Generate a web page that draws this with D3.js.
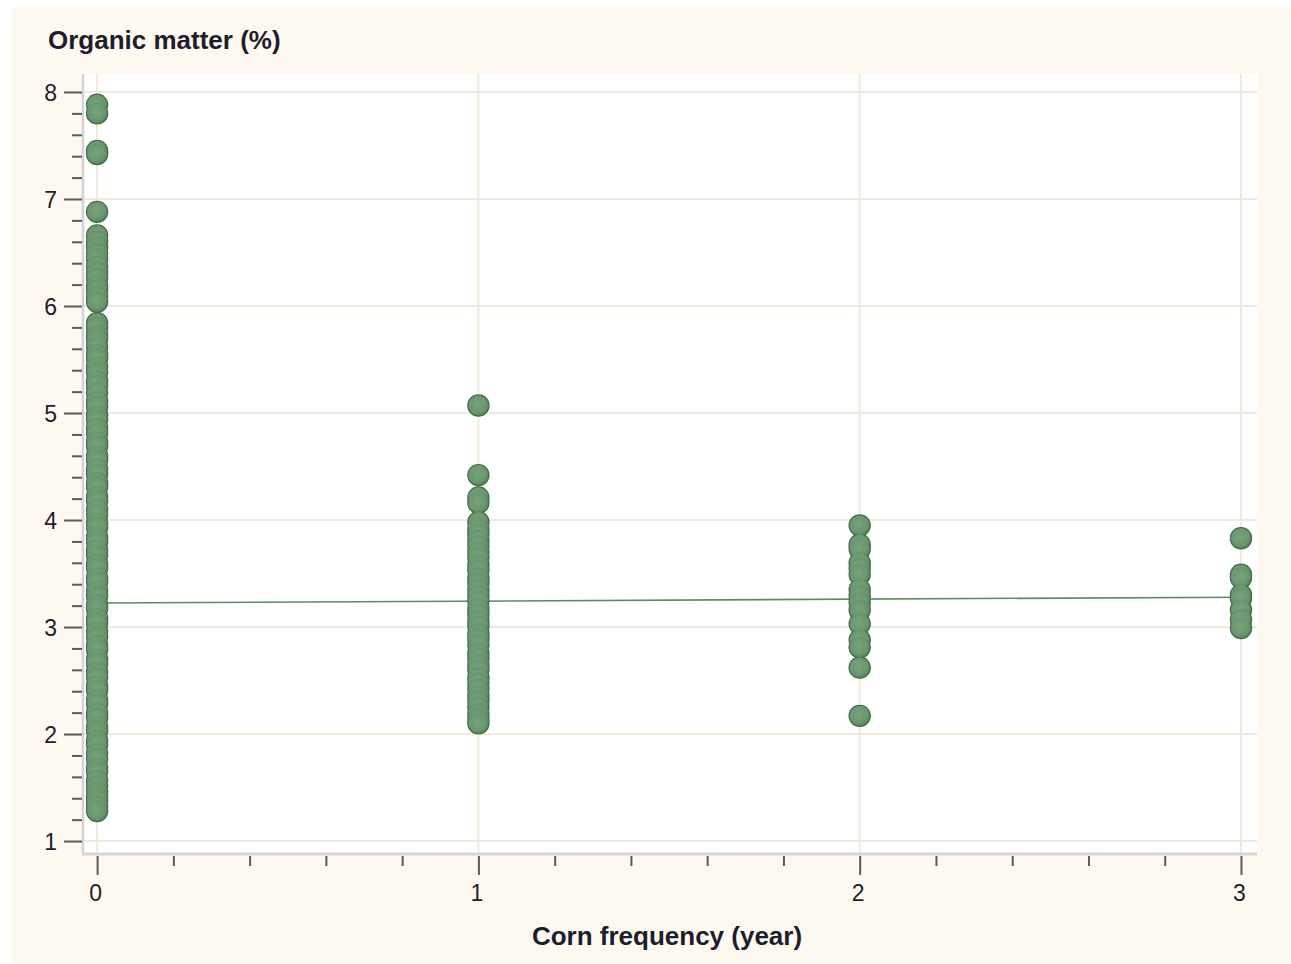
<!DOCTYPE html>
<html>
<head>
<meta charset="utf-8">
<script src="https://cdn.jsdelivr.net/npm/d3@7/dist/d3.min.js"></script>
<style>
  html, body { margin: 0; padding: 0; background: #ffffff; }
  svg { display: block; }
  text { font-family: "Liberation Sans", Arial, sans-serif; }
</style>
</head>
<body>
<svg id="chart" width="1291" height="964"></svg>
<script>
// Corn frequency categories (years) and organic matter (%) readings per category
const cornFrequency = [0, 1, 2, 3];

const organicAt0 = [7.88, 7.80, 7.45, 7.42, 6.88, 6.66, 6.61, 6.55, 6.49, 6.44, 6.37,
  6.32, 6.26, 6.19, 6.15, 6.09, 6.04, 5.84, 5.80, 5.73, 5.69, 5.62, 5.55, 5.51,
  5.43, 5.38, 5.30, 5.26, 5.19, 5.11, 5.06, 4.98, 4.94, 4.86, 4.81, 4.73, 4.69,
  4.60, 4.56, 4.48, 4.43, 4.35, 4.31, 4.22, 4.18, 4.10, 4.05, 3.97, 3.93, 3.84,
  3.80, 3.72, 3.67, 3.59, 3.55, 3.46, 3.42, 3.34, 3.29, 3.21, 3.17, 3.08, 3.04,
  2.96, 2.91, 2.83, 2.79, 2.70, 2.66, 2.58, 2.53, 2.45, 2.41, 2.32, 2.28, 2.20,
  2.15, 2.07, 2.03, 1.94, 1.90, 1.82, 1.77, 1.69, 1.65, 1.57, 1.52, 1.46, 1.42,
  1.38, 1.33, 1.28];
const organicAt1 = [5.07, 4.42, 4.21, 4.16, 3.98, 3.92, 3.87, 3.81, 3.76, 3.70, 3.65,
  3.58, 3.53, 3.46, 3.41, 3.35, 3.29, 3.24, 3.17, 3.12, 3.06, 3.01, 2.94, 2.89,
  2.83, 2.76, 2.71, 2.65, 2.60, 2.53, 2.48, 2.42, 2.36, 2.31, 2.25, 2.19, 2.14, 2.10];
const organicAt2 = [3.95, 3.77, 3.73, 3.60, 3.55, 3.49, 3.35, 3.29, 3.23, 3.16, 3.03,
  2.88, 2.81, 2.62, 2.17];
const organicAt3 = [3.83, 3.49, 3.46, 3.30, 3.27, 3.16, 3.07, 2.99];

// Linear fit endpoints
const fitX = [0, 3];
const fitY = [3.224, 3.279];

// Axis ticks
const xMajorTicks = [0, 1, 2, 3];
const xMinorTicks = [0.2, 0.4, 0.6, 0.8, 1.2, 1.4, 1.6, 1.8, 2.2, 2.4, 2.6, 2.8];
const yMajorTicks = [1, 2, 3, 4, 5, 6, 7, 8];
const yMinorTicks = [1.2, 1.4, 1.6, 1.8, 2.2, 2.4, 2.6, 2.8, 3.2, 3.4, 3.6, 3.8,
  4.2, 4.4, 4.6, 4.8, 5.2, 5.4, 5.6, 5.8, 6.2, 6.4, 6.6, 6.8, 7.2, 7.4, 7.6, 7.8];

const yTitle = "Organic matter (%)";
const xTitle = "Corn frequency (year)";

const seriesByCategory = [organicAt0, organicAt1, organicAt2, organicAt3];
const points = [];
cornFrequency.forEach((c, i) => {
  seriesByCategory[i].forEach(v => points.push({ x: c, y: v }));
});

const svg = d3.select("#chart");

// Panel background
svg.append("rect").attr("x", 12).attr("y", 8).attr("width", 1279).attr("height", 956)
  .attr("fill", "#fdf9f1");

const plot = { left: 83, right: 1257, top: 74, bottom: 854 };

const x = d3.scaleLinear().domain([-0.037, 3.042]).range([plot.left, plot.right]);
const y = d3.scaleLinear().domain([0.879, 8.168]).range([plot.bottom, plot.top]);

// Plot area
svg.append("rect")
  .attr("x", plot.left).attr("y", plot.top)
  .attr("width", plot.right - plot.left).attr("height", plot.bottom - plot.top)
  .attr("fill", "#ffffff");

// Grid
const grid = svg.append("g").attr("stroke", "#efebdc").attr("stroke-width", 2);
grid.selectAll("line.h").data(yMajorTicks).join("line")
  .attr("x1", plot.left).attr("x2", plot.right)
  .attr("y1", d => y(d)).attr("y2", d => y(d));
grid.selectAll("line.v").data(xMajorTicks).join("line")
  .attr("y1", plot.top).attr("y2", plot.bottom)
  .attr("x1", d => x(d)).attr("x2", d => x(d));

// Frame edges (left and bottom)
svg.append("line").attr("x1", plot.left).attr("x2", plot.left)
  .attr("y1", plot.top).attr("y2", plot.bottom + 1)
  .attr("stroke", "#d3d3d3").attr("stroke-width", 2.5);
svg.append("line").attr("x1", plot.left - 1).attr("x2", plot.right)
  .attr("y1", plot.bottom).attr("y2", plot.bottom)
  .attr("stroke", "#d6d6d6").attr("stroke-width", 3);

// Axes
function styleAxis(g) {
  g.select(".domain").remove();
  g.selectAll(".tick line").attr("stroke", "#5a5a5a").attr("stroke-width", 2);
  g.selectAll(".tick text")
    .attr("fill", "#1e1e2a")
    .style("font-size", "23px")
    .style("font-family", "'Liberation Sans', Arial, sans-serif");
}

svg.append("g").attr("transform", `translate(${plot.left - 1},0)`)
  .call(d3.axisLeft(y).tickValues(yMinorTicks).tickSize(10).tickFormat(""))
  .call(styleAxis);
svg.append("g").attr("transform", `translate(${plot.left - 1},0)`)
  .call(d3.axisLeft(y).tickValues(yMajorTicks).tickSize(18).tickPadding(7).tickFormat(d3.format("d")))
  .call(styleAxis)
  .call(g => g.selectAll(".tick text").attr("dy", "0.36em"));

svg.append("g").attr("transform", `translate(0,${plot.bottom + 2})`)
  .call(d3.axisBottom(x).tickValues(xMinorTicks).tickSize(10).tickFormat(""))
  .call(styleAxis);
svg.append("g").attr("transform", `translate(0,${plot.bottom + 2})`)
  .call(d3.axisBottom(x).tickValues(xMajorTicks).tickSize(19).tickPadding(10).tickFormat(d3.format("d")))
  .call(styleAxis)
  .call(g => g.selectAll(".tick text").attr("dx", "-2"));

// Titles
svg.append("text").attr("x", 48).attr("y", 49)
  .attr("fill", "#1e1e2a").style("font-size", "26px").style("font-weight", "bold")
  .text(yTitle);
svg.append("text").attr("x", 667).attr("y", 945).attr("text-anchor", "middle")
  .attr("fill", "#1e1e2a").style("font-size", "26px").style("font-weight", "bold")
  .text(xTitle);

// Fit line, drawn beneath the markers
const fit = fitX.map((v, i) => [v, fitY[i]]);
svg.append("path").datum(fit)
  .attr("d", d3.line().x(d => x(d[0])).y(d => y(d[1])))
  .attr("fill", "none").attr("stroke", "#5b8c63").attr("stroke-width", 1.6);

// Marker shading
const defs = svg.append("defs");
const grad = defs.append("radialGradient").attr("id", "dot")
  .attr("cx", "45%").attr("cy", "42%").attr("r", "60%");
grad.append("stop").attr("offset", "0%").attr("stop-color", "#76a37c");
grad.append("stop").attr("offset", "70%").attr("stop-color", "#6a976f");
grad.append("stop").attr("offset", "100%").attr("stop-color", "#557f5b");

// Points: dark rim layer underneath, shaded bodies on top
const pts = svg.append("g");
pts.append("g").selectAll("circle").data(points).join("circle")
  .attr("cx", d => x(d.x)).attr("cy", d => y(d.y)).attr("r", 11.2)
  .attr("fill", "#3f6a47");
pts.append("g").selectAll("circle").data(points).join("circle")
  .attr("cx", d => x(d.x)).attr("cy", d => y(d.y)).attr("r", 10.2)
  .attr("fill", "url(#dot)")
  .attr("stroke", "#4a7451").attr("stroke-opacity", 0.2).attr("stroke-width", 0.8);
</script>
</body>
</html>
